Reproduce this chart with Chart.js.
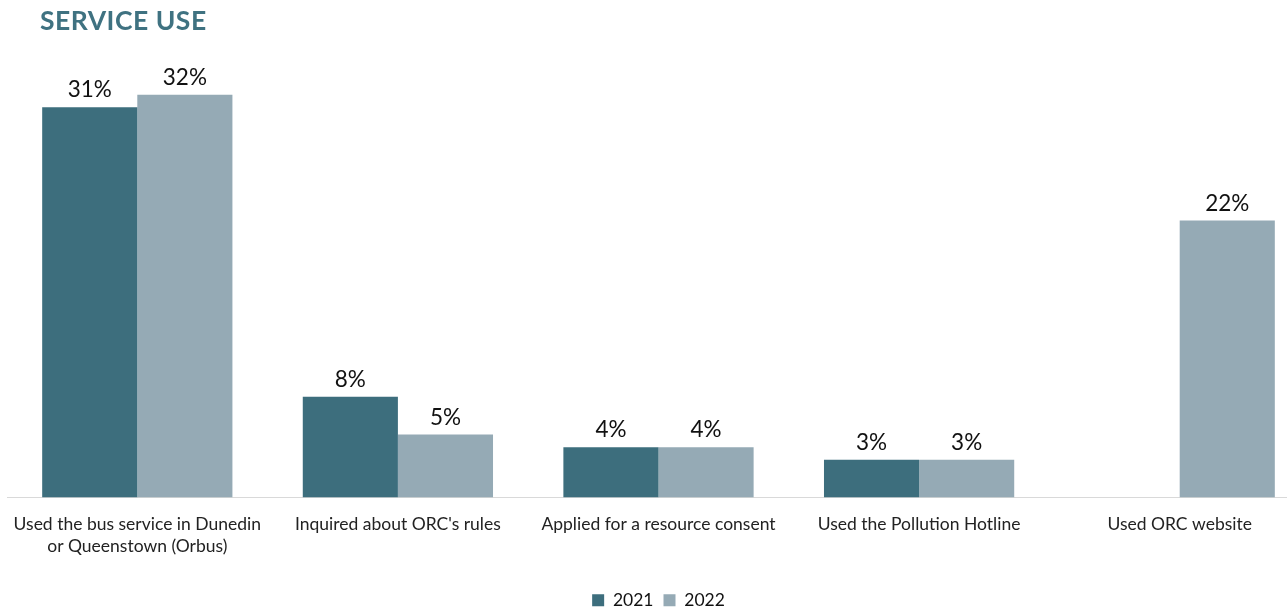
<!DOCTYPE html>
<html>
<head>
<meta charset="utf-8">
<script src="https://cdn.jsdelivr.net/npm/chart.js@4.4.1/dist/chart.umd.min.js"></script>
<style>
  html, body { margin: 0; padding: 0; background: #fff; overflow: hidden; }
  #wrap { position: relative; width: 1310px; height: 608px; overflow: hidden; }
  #title {
    position: absolute; left: 40px; top: 4px;
    font-family: "Lato", sans-serif; font-weight: 700; font-size: 26.5px;
    letter-spacing: 0.5px; color: #3f7281;
  }
</style>
</head>
<body>
<div id="wrap">
  <div id="title">SERVICE USE</div>
  <canvas id="chart" width="1310" height="619"></canvas>
</div>
<script>
'use strict';

// categories and values (percent)
const categories = [
  ['Used the bus service in Dunedin', 'or Queenstown (Orbus)'],
  "Inquired about ORC's rules",
  'Applied for a resource consent',
  'Used the Pollution Hotline',
  'Used ORC website'
];
const values2021 = [31, 8, 4, 3, null];
const values2022 = [32, 5, 4, 3, 22];

const FONT = '"Lato", sans-serif';

// writes "n%" above each bar
const barLabels = {
  id: 'barLabels',
  afterDatasetsDraw(chart) {
    const ctx = chart.ctx;
    ctx.save();
    ctx.font = '22.5px ' + FONT;
    ctx.fillStyle = '#111';
    ctx.textAlign = 'center';
    ctx.textBaseline = 'bottom';
    chart.data.datasets.forEach((ds, i) => {
      chart.getDatasetMeta(i).data.forEach((bar, j) => {
        const v = ds.data[j];
        if (v === null || v === undefined) return;
        ctx.fillText(v + '%', bar.x, bar.y - 6);
      });
    });
    ctx.restore();
  }
};

function main() {
  const ctx = document.getElementById('chart');

  window.serviceChart = new Chart(ctx, {
    type: 'bar',
    data: {
      labels: categories,
      datasets: [{
        label: '2021',
        data: values2021,
        backgroundColor: '#3d6e7d'
      }, {
        label: '2022',
        data: values2022,
        backgroundColor: '#95aab5'
      }]
    },
    options: {
      responsive: false,
      animation: false,
      categoryPercentage: 0.73,
      barPercentage: 1,
      layout: {
        padding: { left: 7, right: 0, top: 57, bottom: 0 }
      },
      plugins: {
        legend: {
          position: 'bottom',
          labels: {
            color: '#111',
            boxWidth: 12,
            boxHeight: 12,
            padding: 10,
            font: { family: FONT, size: 17.5 }
          }
        },
        tooltip: { enabled: false }
      },
      scales: {
        x: {
          grid: { display: false },
          border: { color: '#d9d9d9' },
          ticks: {
            color: '#222',
            maxRotation: 0,
            autoSkip: false,
            padding: 7,
            font: { family: FONT, size: 17.5, lineHeight: 1.3 }
          },
          // leave a fixed band between the axis and the legend
          afterFit(scale) {
            scale.height = 84;
          }
        },
        y: {
          display: false,
          min: 0,
          max: 35
        }
      }
    },
    plugins: [barLabels]
  });
}

main();
</script>
</body>
</html>
